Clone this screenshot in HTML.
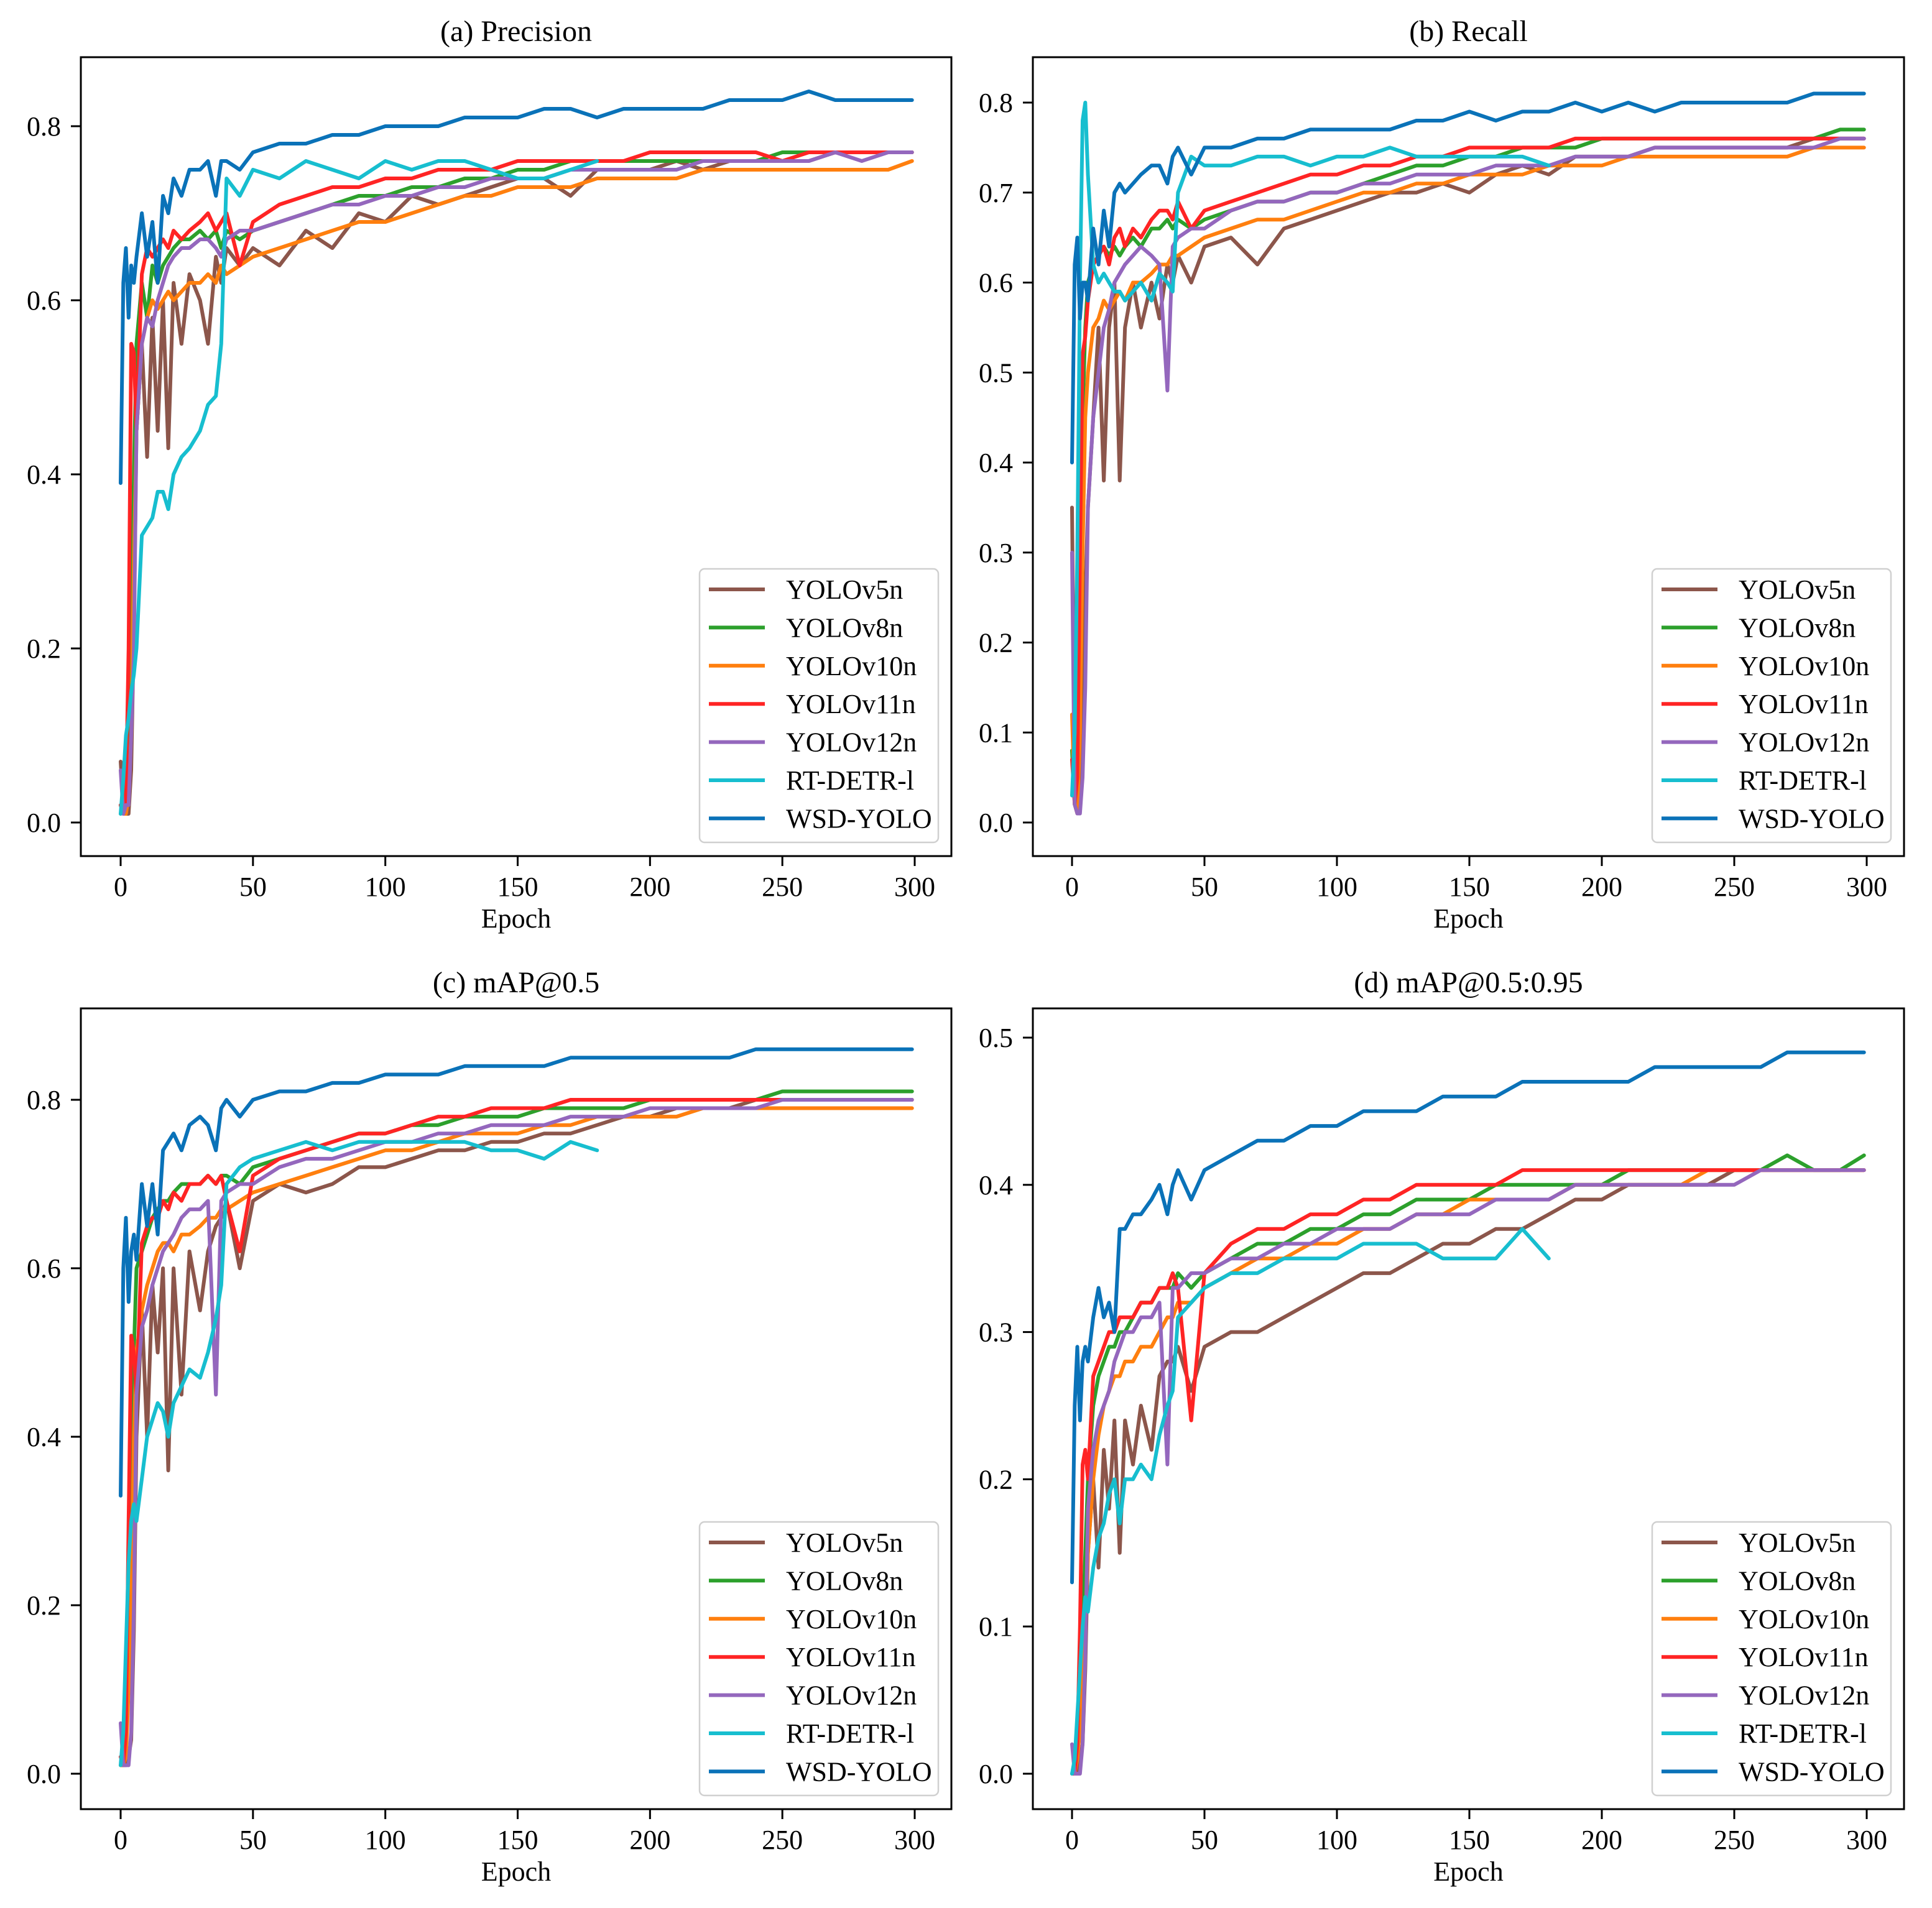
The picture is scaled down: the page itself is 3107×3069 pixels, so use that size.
<!DOCTYPE html>
<html><head><meta charset="utf-8"><style>
html,body{margin:0;padding:0;background:#fff;}
svg{display:block;}
text{font-family:"Liberation Serif","Times New Roman",serif;fill:#000;}
</style></head>
<body>
<svg id="fig" width="3107" height="3069" viewBox="0 0 3107 3069" xmlns="http://www.w3.org/2000/svg"></svg>
<script>
// ===== data =====
const epochs = [0,1,2,3,4,5,6,8,10,12,14,16,18,20,23,26,30,33,36,38,40,45,50,60,70,80,90,100,110,120,130,140,150,160,170,180,190,200,210,220,230,240,250,260,270,280,290,299];
const seriesNames = ["YOLOv5n","YOLOv8n","YOLOv10n","YOLOv11n","YOLOv12n","RT-DETR-l","WSD-YOLO"];
const seriesColors = ["#8c564b","#2ca02c","#ff7f0e","#ff2424","#9467bd","#17becf","#0a72b8"];

// (a) Precision
const precV5 = [0.07,0.02,0.01,0.01,0.06,0.22,0.45,0.55,0.42,0.58,0.45,0.60,0.43,0.62,0.55,0.63,0.60,0.55,0.65,0.62,0.66,0.64,0.66,0.64,0.68,0.66,0.70,0.69,0.72,0.71,0.72,0.73,0.74,0.74,0.72,0.75,0.75,0.75,0.76,0.75,0.76,0.76,0.76,0.76,0.77,0.77,0.77,0.77];
const precV8 = [0.01,0.02,0.05,0.12,0.20,0.40,0.55,0.62,0.58,0.64,0.62,0.64,0.65,0.66,0.67,0.67,0.68,0.67,0.68,0.66,0.68,0.67,0.68,0.69,0.70,0.71,0.72,0.72,0.73,0.73,0.74,0.74,0.75,0.75,0.76,0.76,0.76,0.76,0.76,0.76,0.76,0.76,0.77,0.77,0.77,0.77,0.77,0.77];
const precV10 = [0.02,0.01,0.01,0.03,0.10,0.30,0.45,0.55,0.58,0.60,0.59,0.60,0.61,0.60,0.61,0.62,0.62,0.63,0.62,0.64,0.63,0.64,0.65,0.66,0.67,0.68,0.69,0.69,0.70,0.71,0.72,0.72,0.73,0.73,0.73,0.74,0.74,0.74,0.74,0.75,0.75,0.75,0.75,0.75,0.75,0.75,0.75,0.76];
const precV11 = [0.02,0.01,0.03,0.20,0.55,0.54,0.45,0.63,0.66,0.65,0.66,0.67,0.66,0.68,0.67,0.68,0.69,0.70,0.68,0.69,0.70,0.64,0.69,0.71,0.72,0.73,0.73,0.74,0.74,0.75,0.75,0.75,0.76,0.76,0.76,0.76,0.76,0.77,0.77,0.77,0.77,0.77,0.76,0.77,0.77,0.77,0.77,0.77];
const precV12 = [0.06,0.01,0.02,0.02,0.10,0.20,0.45,0.55,0.58,0.57,0.60,0.62,0.64,0.65,0.66,0.66,0.67,0.67,0.66,0.65,0.67,0.68,0.68,0.69,0.70,0.71,0.71,0.72,0.72,0.73,0.73,0.74,0.74,0.74,0.75,0.75,0.75,0.75,0.75,0.76,0.76,0.76,0.76,0.76,0.77,0.76,0.77,0.77];
const precRT = [0.01,0.05,0.10,0.12,0.15,0.17,0.20,0.33,0.34,0.35,0.38,0.38,0.36,0.40,0.42,0.43,0.45,0.48,0.49,0.55,0.74,0.72,0.75,0.74,0.76,0.75,0.74,0.76,0.75,0.76,0.76,0.75,0.74,0.74,0.75,0.76];
const precWSD = [0.39,0.62,0.66,0.58,0.64,0.62,0.65,0.70,0.65,0.69,0.62,0.72,0.70,0.74,0.72,0.75,0.75,0.76,0.72,0.76,0.76,0.75,0.77,0.78,0.78,0.79,0.79,0.80,0.80,0.80,0.81,0.81,0.81,0.82,0.82,0.81,0.82,0.82,0.82,0.82,0.83,0.83,0.83,0.84,0.83,0.83,0.83,0.83];

// (b) Recall
const recV5 = [0.35,0.05,0.02,0.02,0.10,0.25,0.35,0.45,0.55,0.38,0.55,0.60,0.38,0.55,0.60,0.55,0.60,0.56,0.62,0.60,0.63,0.60,0.64,0.65,0.62,0.66,0.67,0.68,0.69,0.70,0.70,0.71,0.70,0.72,0.73,0.72,0.74,0.74,0.74,0.75,0.75,0.75,0.75,0.75,0.75,0.76,0.76,0.76];
const recV8 = [0.08,0.02,0.05,0.20,0.45,0.55,0.60,0.62,0.63,0.64,0.63,0.64,0.63,0.64,0.65,0.64,0.66,0.66,0.67,0.66,0.67,0.66,0.67,0.68,0.69,0.69,0.70,0.70,0.71,0.72,0.73,0.73,0.74,0.74,0.75,0.75,0.75,0.76,0.76,0.76,0.76,0.76,0.76,0.76,0.76,0.76,0.77,0.77];
const recV10 = [0.12,0.02,0.01,0.10,0.30,0.45,0.50,0.55,0.56,0.58,0.57,0.58,0.59,0.58,0.60,0.60,0.61,0.62,0.62,0.63,0.63,0.64,0.65,0.66,0.67,0.67,0.68,0.69,0.70,0.70,0.71,0.71,0.72,0.72,0.72,0.73,0.73,0.73,0.74,0.74,0.74,0.74,0.74,0.74,0.74,0.75,0.75,0.75];
const recV11 = [0.07,0.02,0.05,0.30,0.52,0.54,0.58,0.62,0.63,0.64,0.62,0.65,0.66,0.64,0.66,0.65,0.67,0.68,0.68,0.67,0.69,0.66,0.68,0.69,0.70,0.71,0.72,0.72,0.73,0.73,0.74,0.74,0.75,0.75,0.75,0.75,0.76,0.76,0.76,0.76,0.76,0.76,0.76,0.76,0.76,0.76,0.76,0.76];
const recV12 = [0.30,0.02,0.01,0.01,0.05,0.15,0.35,0.45,0.50,0.55,0.57,0.60,0.61,0.62,0.63,0.64,0.63,0.62,0.48,0.64,0.65,0.66,0.66,0.68,0.69,0.69,0.70,0.70,0.71,0.71,0.72,0.72,0.72,0.73,0.73,0.73,0.74,0.74,0.74,0.75,0.75,0.75,0.75,0.75,0.75,0.75,0.76,0.76];
const recRT = [0.03,0.10,0.30,0.60,0.78,0.80,0.72,0.62,0.60,0.61,0.60,0.59,0.59,0.58,0.59,0.60,0.58,0.61,0.60,0.59,0.70,0.74,0.73,0.73,0.74,0.74,0.73,0.74,0.74,0.75,0.74,0.74,0.74,0.74,0.74,0.73];
const recWSD = [0.40,0.62,0.65,0.56,0.60,0.60,0.58,0.66,0.62,0.68,0.64,0.70,0.71,0.70,0.71,0.72,0.73,0.73,0.71,0.74,0.75,0.72,0.75,0.75,0.76,0.76,0.77,0.77,0.77,0.77,0.78,0.78,0.79,0.78,0.79,0.79,0.80,0.79,0.80,0.79,0.80,0.80,0.80,0.80,0.80,0.81,0.81,0.81];

// (c) mAP@0.5
const m50V5 = [0.01,0.01,0.01,0.02,0.04,0.17,0.40,0.55,0.40,0.58,0.50,0.60,0.36,0.60,0.45,0.62,0.55,0.62,0.65,0.66,0.68,0.60,0.68,0.70,0.69,0.70,0.72,0.72,0.73,0.74,0.74,0.75,0.75,0.76,0.76,0.77,0.78,0.78,0.79,0.79,0.79,0.80,0.80,0.80,0.80,0.80,0.80,0.80];
const m50V8 = [0.01,0.01,0.05,0.20,0.35,0.50,0.60,0.62,0.64,0.66,0.67,0.68,0.68,0.69,0.70,0.70,0.70,0.71,0.70,0.71,0.71,0.70,0.72,0.73,0.74,0.75,0.76,0.76,0.77,0.77,0.78,0.78,0.78,0.79,0.79,0.79,0.79,0.80,0.80,0.80,0.80,0.80,0.81,0.81,0.81,0.81,0.81,0.81];
const m50V10 = [0.01,0.01,0.02,0.10,0.20,0.40,0.50,0.55,0.58,0.60,0.62,0.63,0.63,0.62,0.64,0.64,0.65,0.66,0.66,0.67,0.67,0.68,0.69,0.70,0.71,0.72,0.73,0.74,0.74,0.75,0.76,0.76,0.76,0.77,0.77,0.78,0.78,0.78,0.78,0.79,0.79,0.79,0.79,0.79,0.79,0.79,0.79,0.79];
const m50V11 = [0.02,0.01,0.05,0.30,0.52,0.50,0.45,0.63,0.65,0.66,0.66,0.68,0.67,0.69,0.68,0.70,0.70,0.71,0.70,0.71,0.68,0.62,0.71,0.73,0.74,0.75,0.76,0.76,0.77,0.78,0.78,0.79,0.79,0.79,0.80,0.80,0.80,0.80,0.80,0.80,0.80,0.80,0.80,0.80,0.80,0.80,0.80,0.80];
const m50V12 = [0.06,0.01,0.01,0.01,0.05,0.20,0.45,0.53,0.55,0.58,0.60,0.62,0.63,0.64,0.66,0.67,0.67,0.68,0.45,0.68,0.69,0.70,0.70,0.72,0.73,0.73,0.74,0.75,0.75,0.76,0.76,0.77,0.77,0.77,0.78,0.78,0.78,0.79,0.79,0.79,0.79,0.79,0.80,0.80,0.80,0.80,0.80,0.80];
const m50RT = [0.01,0.05,0.15,0.25,0.30,0.32,0.30,0.35,0.40,0.42,0.44,0.43,0.40,0.44,0.46,0.48,0.47,0.50,0.54,0.58,0.70,0.72,0.73,0.74,0.75,0.74,0.75,0.75,0.75,0.75,0.75,0.74,0.74,0.73,0.75,0.74];
const m50WSD = [0.33,0.60,0.66,0.56,0.62,0.64,0.61,0.70,0.65,0.70,0.64,0.74,0.75,0.76,0.74,0.77,0.78,0.77,0.74,0.79,0.80,0.78,0.80,0.81,0.81,0.82,0.82,0.83,0.83,0.83,0.84,0.84,0.84,0.84,0.85,0.85,0.85,0.85,0.85,0.85,0.85,0.86,0.86,0.86,0.86,0.86,0.86,0.86];

// (d) mAP@0.5:0.95
const m95V5 = [0.00,0.00,0.00,0.01,0.02,0.07,0.15,0.20,0.14,0.22,0.18,0.24,0.15,0.24,0.21,0.25,0.22,0.27,0.28,0.28,0.29,0.26,0.29,0.30,0.30,0.31,0.32,0.33,0.34,0.34,0.35,0.36,0.36,0.37,0.37,0.38,0.39,0.39,0.40,0.40,0.40,0.40,0.41,0.41,0.41,0.41,0.41,0.41];
const m95V8 = [0.00,0.00,0.01,0.05,0.10,0.15,0.20,0.25,0.27,0.28,0.29,0.29,0.30,0.30,0.31,0.32,0.32,0.33,0.33,0.33,0.34,0.33,0.34,0.35,0.36,0.36,0.37,0.37,0.38,0.38,0.39,0.39,0.39,0.40,0.40,0.40,0.40,0.40,0.41,0.41,0.41,0.41,0.41,0.41,0.42,0.41,0.41,0.42];
const m95V10 = [0.00,0.00,0.01,0.03,0.06,0.10,0.15,0.20,0.23,0.25,0.26,0.27,0.27,0.28,0.28,0.29,0.29,0.30,0.31,0.31,0.32,0.32,0.33,0.34,0.35,0.35,0.36,0.36,0.37,0.37,0.38,0.38,0.39,0.39,0.39,0.39,0.40,0.40,0.40,0.40,0.40,0.41,0.41,0.41,0.41,0.41,0.41,0.41];
const m95V11 = [0.00,0.00,0.02,0.10,0.21,0.22,0.20,0.27,0.28,0.29,0.30,0.30,0.31,0.31,0.31,0.32,0.32,0.33,0.33,0.34,0.33,0.24,0.34,0.36,0.37,0.37,0.38,0.38,0.39,0.39,0.40,0.40,0.40,0.40,0.41,0.41,0.41,0.41,0.41,0.41,0.41,0.41,0.41,0.41,0.41,0.41,0.41,0.41];
const m95V12 = [0.02,0.00,0.00,0.00,0.02,0.08,0.18,0.22,0.24,0.25,0.26,0.28,0.29,0.30,0.30,0.31,0.31,0.32,0.21,0.33,0.33,0.34,0.34,0.35,0.35,0.36,0.36,0.37,0.37,0.37,0.38,0.38,0.38,0.39,0.39,0.39,0.40,0.40,0.40,0.40,0.40,0.40,0.40,0.41,0.41,0.41,0.41,0.41];
const m95RT = [0.00,0.01,0.04,0.07,0.10,0.12,0.11,0.14,0.16,0.17,0.19,0.20,0.17,0.20,0.20,0.21,0.20,0.23,0.25,0.26,0.31,0.32,0.33,0.34,0.34,0.35,0.35,0.35,0.36,0.36,0.36,0.35,0.35,0.35,0.37,0.35];
const m95WSD = [0.13,0.25,0.29,0.24,0.28,0.29,0.28,0.31,0.33,0.31,0.32,0.30,0.37,0.37,0.38,0.38,0.39,0.40,0.38,0.40,0.41,0.39,0.41,0.42,0.43,0.43,0.44,0.44,0.45,0.45,0.45,0.46,0.46,0.46,0.47,0.47,0.47,0.47,0.47,0.48,0.48,0.48,0.48,0.48,0.49,0.49,0.49,0.49];

const xTicks = [0,50,100,150,200,250,300];
const yTicksA = [0.0,0.2,0.4,0.6,0.8];
const yTicksB = [0.0,0.1,0.2,0.3,0.4,0.5,0.6,0.7,0.8];
const yTicksD = [0.0,0.1,0.2,0.3,0.4,0.5];

// ===== layout =====
const NS = "http://www.w3.org/2000/svg";
const fig = document.getElementById("fig");
function mk(tag, attrs, parent){
  const e = document.createElementNS(NS, tag);
  for (const k in attrs) e.setAttribute(k, attrs[k]);
  (parent||fig).appendChild(e);
  return e;
}
const panels = [
  {id:"precision", title:"(a) Precision", L:130,R:1530,T:92,B:1377, x0:194,x300:1471, y0px:1323, yRef:0.8, yRefPx:203, ticks:yTicksA,
   data:[precV5,precV8,precV10,precV11,precV12,precRT,precWSD]},
  {id:"recall", title:"(b) Recall", L:1661,R:3062,T:92,B:1377, x0:1724,x300:3002, y0px:1323, yRef:0.8, yRefPx:165, ticks:yTicksB,
   data:[recV5,recV8,recV10,recV11,recV12,recRT,recWSD]},
  {id:"map50", title:"(c) mAP@0.5", L:130,R:1530,T:1622,B:2910, x0:194,x300:1471, y0px:2853, yRef:0.8, yRefPx:1769, ticks:yTicksA,
   data:[m50V5,m50V8,m50V10,m50V11,m50V12,m50RT,m50WSD]},
  {id:"map50-95", title:"(d) mAP@0.5:0.95", L:1661,R:3062,T:1622,B:2910, x0:1724,x300:3002, y0px:2853, yRef:0.5, yRefPx:1669, ticks:yTicksD,
   data:[m95V5,m95V8,m95V10,m95V11,m95V12,m95RT,m95WSD]}
];

panels.forEach(p=>{
  const xs = v => p.x0 + (p.x300 - p.x0) * v / 300;
  const ys = v => p.y0px + (p.yRefPx - p.y0px) * v / p.yRef;
  const g = mk("g", {});
  
  
  const cid = "clip-" + p.id;
  const cp = mk("clipPath", {id:cid}, g);
  mk("rect", {x:p.L, y:p.T, width:p.R-p.L, height:p.B-p.T}, cp);

  const t = mk("text", {x:(p.L+p.R)/2, y:p.T-26, "text-anchor":"middle", "font-size":"48"}, g);
  t.textContent = p.title;
  
  

  const lines = mk("g", {"clip-path":"url(#"+cid+")"}, g);
  p.data.forEach((arr, si)=>{
    let d = "";
    arr.forEach((v,i)=>{ d += (i?"L":"M") + xs(epochs[i]).toFixed(1) + "," + ys(v).toFixed(1); });
    const path = mk("path", {d:d, fill:"none", stroke:seriesColors[si], "stroke-width":"6", "stroke-linejoin":"round", "stroke-linecap":"round"}, lines);
    
    
  });

  const frame = mk("rect", {x:p.L, y:p.T, width:p.R-p.L, height:p.B-p.T, fill:"none", stroke:"#000", "stroke-width":"3"}, g);
  
  

  xTicks.forEach(v=>{
    const x = xs(v);
    mk("line", {x1:x, x2:x, y1:p.B, y2:p.B+16, stroke:"#000", "stroke-width":"3"}, g);
    const tl = mk("text", {x:x, y:p.B+64, "text-anchor":"middle", "font-size":"44"}, g);
    tl.textContent = String(v);
    
    
  });
  p.ticks.forEach(v=>{
    const y = ys(v);
    mk("line", {x1:p.L-16, x2:p.L, y1:y, y2:y, stroke:"#000", "stroke-width":"3"}, g);
    const tl = mk("text", {x:p.L-32, y:y+15, "text-anchor":"end", "font-size":"44"}, g);
    tl.textContent = v.toFixed(1);
    
    
  });
  const xl = mk("text", {x:(p.L+p.R)/2, y:p.B+115, "text-anchor":"middle", "font-size":"44"}, g);
  xl.textContent = "Epoch";
  
  

  // legend
  const lg = mk("g", {}, g);
  
  
  mk("rect", {x:p.R-405, y:p.B-462, width:384, height:440, rx:8, fill:"#fff", "fill-opacity":"0.85", stroke:"#d0d0d0", "stroke-width":"2.5"}, lg);
  seriesNames.forEach((n, i)=>{
    const cy = p.B - 429 + i*61.4;
    const e = mk("g", {}, lg);
    
    
    mk("line", {x1:p.R-390, x2:p.R-300, y1:cy, y2:cy, stroke:seriesColors[i], "stroke-width":"6"}, e);
    const tx = mk("text", {x:p.R-266, y:cy+15, "font-size":"44"}, e);
    tx.textContent = n;
  });
});
</script>
</body></html>
